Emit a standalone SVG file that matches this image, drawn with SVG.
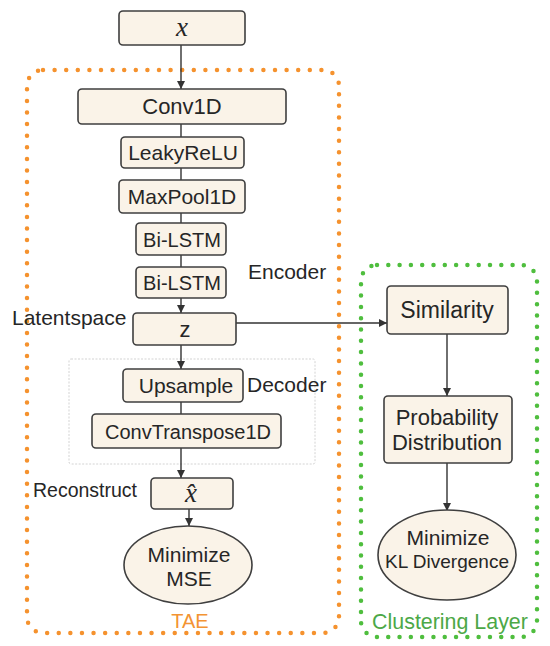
<svg xmlns="http://www.w3.org/2000/svg" width="550" height="646" viewBox="0 0 550 646">
<defs>
<marker id="arr" viewBox="0 0 10 10" refX="10" refY="5" markerWidth="8" markerHeight="8" markerUnits="userSpaceOnUse" orient="auto">
<path d="M0,0 L10,5 L0,10 z" fill="#333"/>
</marker>
<style>
.box{fill:#FAF3E8;stroke:#3f3f3f;stroke-width:1.6}
.t{font-family:"Liberation Sans",Arial,sans-serif;fill:#262626;text-anchor:middle}
.lbl{font-family:"Liberation Sans",Arial,sans-serif;fill:#262626}
.m{font-family:"Liberation Serif","Times New Roman",serif;font-style:italic;fill:#262626;text-anchor:middle}
.c{fill:none;stroke:#333;stroke-width:1.4}
.ca{fill:none;stroke:#333;stroke-width:1.4;marker-end:url(#arr)}
</style>
</defs>
<rect width="550" height="646" fill="#ffffff"/>

<g id="groups">
<rect id="tae-frame" x="27" y="70" width="312" height="563" rx="16" fill="none" stroke="#F5922E" stroke-width="4.5" stroke-linecap="round" stroke-dasharray="0 11.6"/>
<rect id="cluster-frame" x="361" y="265" width="176" height="372" rx="16" fill="none" stroke="#4FBE3E" stroke-width="4.5" stroke-linecap="round" stroke-dasharray="0 11.3"/>
<rect id="decoder-frame" x="69" y="359" width="246" height="105" rx="2" fill="none" stroke="#c8c8c8" stroke-width="0.8" stroke-dasharray="2 1.5"/>
</g>

<g id="connectors">
<line class="ca" x1="181" y1="45" x2="181" y2="89"/>
<line class="c" x1="181" y1="124" x2="181" y2="137"/>
<line class="c" x1="181" y1="168" x2="181" y2="180"/>
<line class="c" x1="181" y1="213" x2="181" y2="223"/>
<line class="c" x1="181" y1="255" x2="181" y2="267"/>
<line class="ca" x1="181" y1="298" x2="181" y2="313"/>
<line class="ca" x1="181" y1="345" x2="181" y2="369"/>
<line class="c" x1="181" y1="402" x2="181" y2="414"/>
<line class="ca" x1="181" y1="448" x2="181" y2="478"/>
<line class="ca" x1="189" y1="509" x2="189" y2="526"/>
<line class="ca" x1="236" y1="323" x2="387" y2="323"/>
<line class="ca" x1="447" y1="334" x2="447" y2="396"/>
<line class="ca" x1="447" y1="463" x2="447" y2="511"/>
</g>

<g id="node-x">
<rect class="box" x="119" y="11" width="126" height="34" rx="4"/>
<text class="m" x="182" y="36" font-size="27">x</text>
</g>
<g id="node-conv1d">
<rect class="box" x="78" y="89" width="208" height="35" rx="4"/>
<text class="t" x="182" y="114" font-size="22">Conv1D</text>
</g>
<g id="node-leakyrelu">
<rect class="box" x="121" y="137" width="123" height="31" rx="4"/>
<text class="t" x="183" y="160" font-size="21">LeakyReLU</text>
</g>
<g id="node-maxpool">
<rect class="box" x="119" y="180" width="126" height="33" rx="4"/>
<text class="t" x="182" y="204" font-size="21">MaxPool1D</text>
</g>
<g id="node-bilstm1">
<rect class="box" x="136" y="223" width="90" height="32" rx="4"/>
<text class="t" x="182" y="247" font-size="20">Bi-LSTM</text>
</g>
<g id="node-bilstm2">
<rect class="box" x="136" y="267" width="90" height="31" rx="4"/>
<text class="t" x="182" y="290" font-size="20">Bi-LSTM</text>
</g>
<g id="label-encoder">
<text class="lbl" x="248" y="279" font-size="21">Encoder</text>
</g>
<g id="node-z">
<rect class="box" x="133" y="313" width="103" height="32" rx="4"/>
<text class="t" x="185" y="337" font-size="22">z</text>
<text class="lbl" x="12" y="325" font-size="21">Latentspace</text>
</g>
<g id="node-upsample">
<rect class="box" x="123" y="369" width="120" height="33" rx="4"/>
<text class="t" x="186" y="393" font-size="21">Upsample</text>
<text class="lbl" x="247" y="392" font-size="21">Decoder</text>
</g>
<g id="node-convtranspose">
<rect class="box" x="92" y="414" width="189" height="34" rx="4"/>
<text class="t" x="188" y="439" font-size="20">ConvTranspose1D</text>
</g>
<g id="node-xhat">
<rect class="box" x="151" y="478" width="82" height="31" rx="4"/>
<text class="m" x="191" y="502" font-size="27">x̂</text>
<text class="lbl" x="33" y="497" font-size="19.5">Reconstruct</text>
</g>
<g id="node-mse">
<ellipse class="box" cx="188" cy="565" rx="64" ry="39"/>
<text class="t" x="189" y="562" font-size="21">Minimize</text>
<text class="t" x="189" y="586" font-size="21">MSE</text>
</g>
<g id="label-tae">
<text class="t" x="190" y="628" font-size="20" style="fill:#F39433">TAE</text>
</g>

<g id="node-similarity">
<rect class="box" x="387" y="286" width="121" height="48" rx="4"/>
<text class="t" x="447" y="318" font-size="23">Similarity</text>
</g>
<g id="node-probability">
<rect class="box" x="384" y="396" width="128" height="67" rx="4"/>
<text class="t" x="447" y="425" font-size="22">Probability</text>
<text class="t" x="447" y="450" font-size="22">Distribution</text>
</g>
<g id="node-kl">
<ellipse class="box" cx="447" cy="555" rx="69" ry="45"/>
<text class="t" x="448" y="545" font-size="21">Minimize</text>
<text class="t" x="447" y="568" font-size="19">KL Divergence</text>
</g>
<g id="label-clustering">
<text class="t" x="450" y="629" font-size="21.4" style="fill:#4CA847">Clustering Layer</text>
</g>
</svg>
